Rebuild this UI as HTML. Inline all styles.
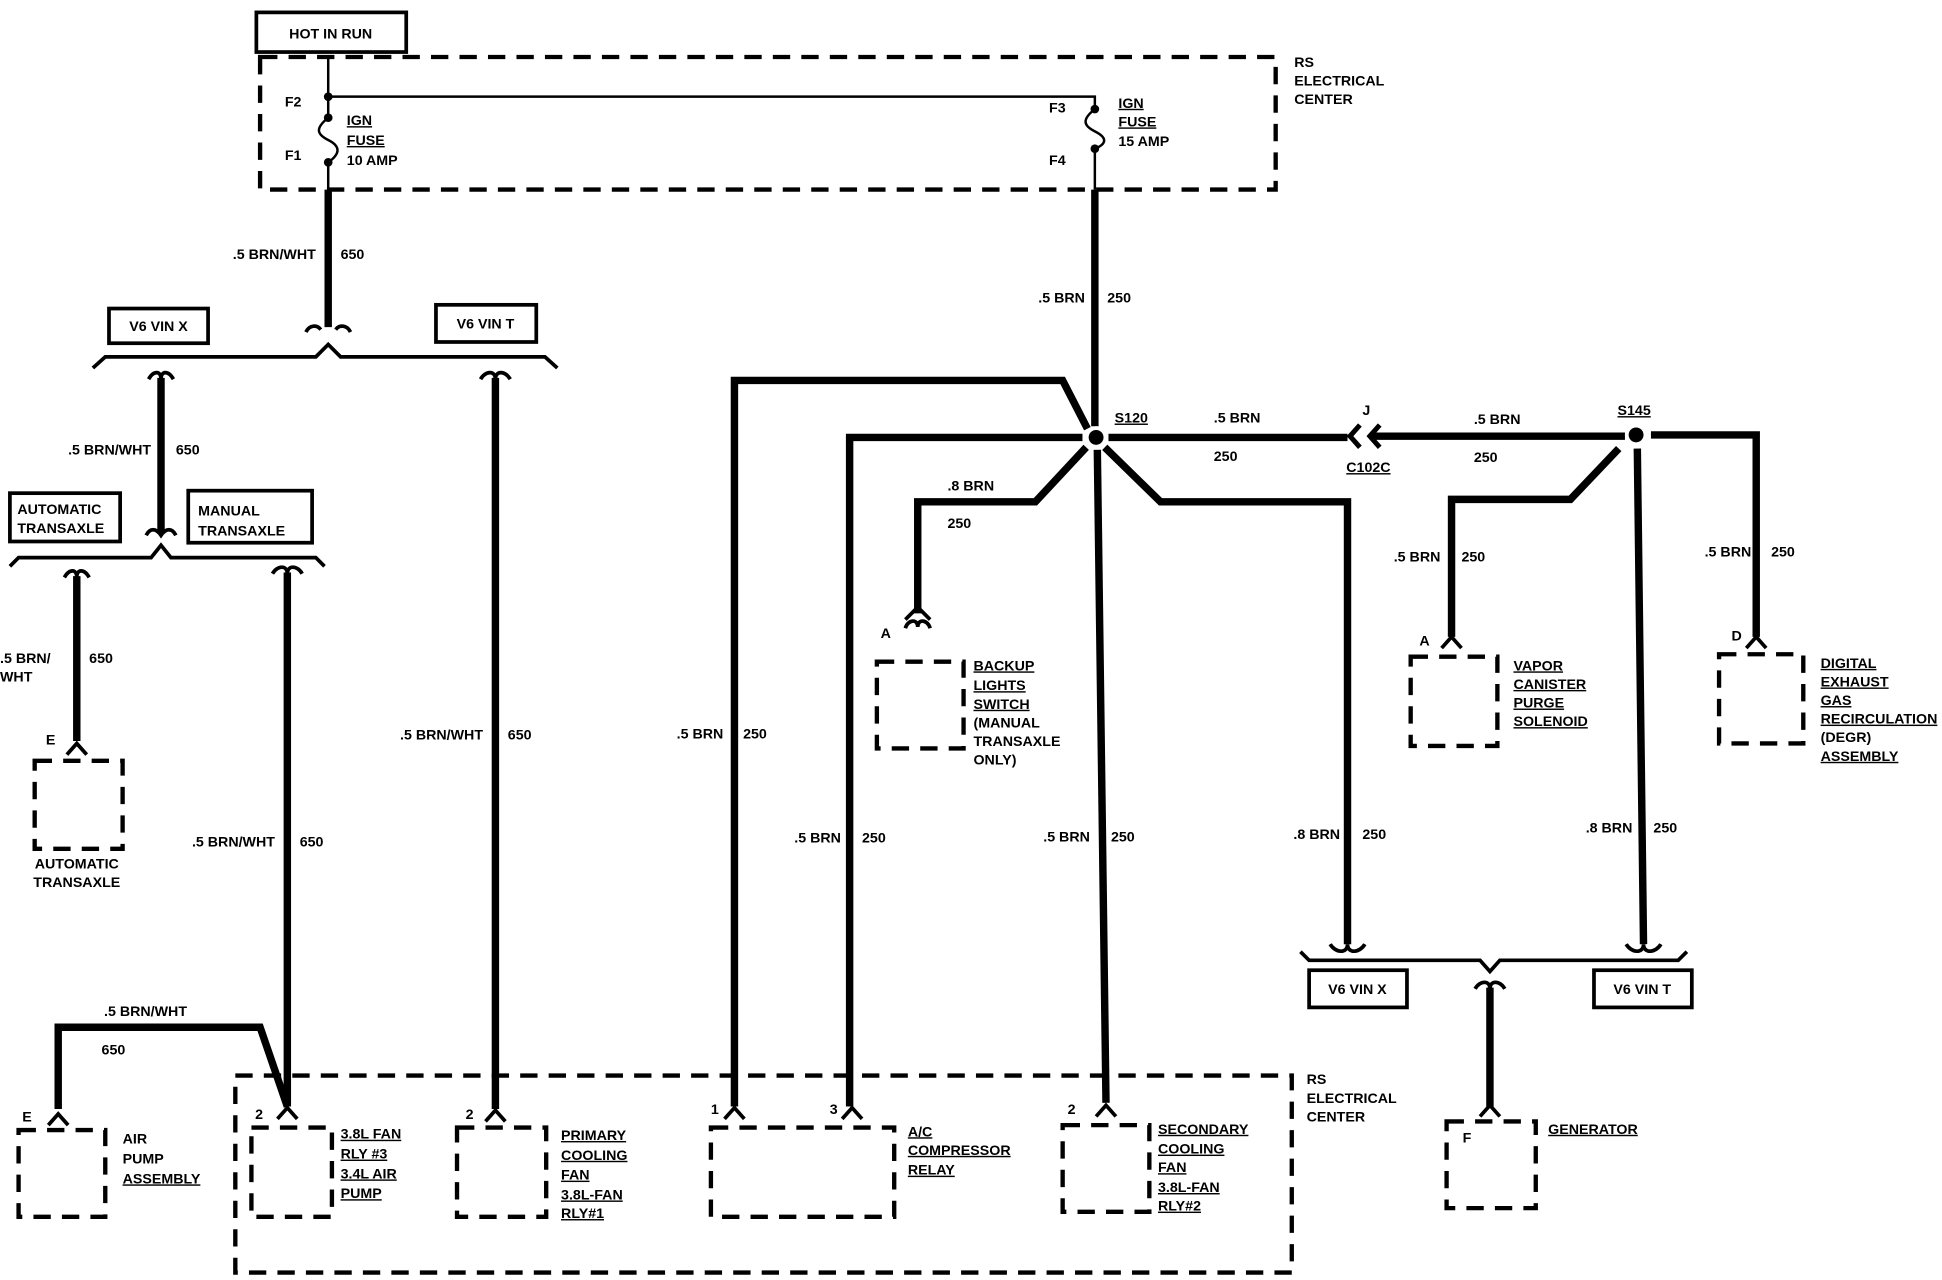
<!DOCTYPE html>
<html><head><meta charset="utf-8"><style>
html,body{margin:0;padding:0;background:#fff;}
svg{display:block;}
text{font-family:"Liberation Sans",sans-serif;font-weight:bold;font-size:11.5px;fill:#000;}
.w{stroke:#000;stroke-width:6;fill:none;stroke-linejoin:miter;}
.t{stroke:#000;stroke-width:2;fill:none;}
.m{stroke:#000;stroke-width:3;fill:none;}
.d{stroke:#000;stroke-width:3.5;fill:none;stroke-dasharray:14,9;}
.u{text-decoration:underline;}
</style></head><body>
<svg width="1942" height="1280" viewBox="0 0 1568 1033" preserveAspectRatio="none" xmlns="http://www.w3.org/2000/svg">
<!-- top -->
<rect x="207" y="10" width="121" height="32" class="m"/>
<text x="267" y="31" text-anchor="middle">HOT IN RUN</text>
<rect x="210" y="46" width="820" height="107" class="d"/>
<text x="1045" y="54">RS</text><text x="1045" y="69">ELECTRICAL</text><text x="1045" y="84">CENTER</text>
<!-- left fuse -->
<path d="M265 46 V78 H884 V88" class="t"/>
<path d="M265 78 V95 C255 103,255 108,265 113 C275 118,275 124,265 131 V153" class="t"/>
<circle cx="265" cy="78" r="3.5"/><circle cx="265" cy="95" r="3.5"/><circle cx="265" cy="131" r="3.5"/>
<text x="230" y="86">F2</text><text x="230" y="129">F1</text>
<text x="280" y="101" class="u">IGN</text><text x="280" y="117" class="u">FUSE</text><text x="280" y="133">10 AMP</text>
<!-- right fuse -->
<path d="M884 88 C874 96,874 101,884 106 C894 111,894 116,884 120 V153" class="t"/>
<circle cx="884" cy="88" r="3.5"/><circle cx="884" cy="120" r="3.5"/>
<text x="847" y="91">F3</text><text x="847" y="133">F4</text>
<text x="903" y="87" class="u">IGN</text><text x="903" y="102" class="u">FUSE</text><text x="903" y="118">15 AMP</text>
<!-- left tree -->
<path d="M265 153 V264" class="w"/>
<path d="M247 268 C250 262,256 262,259 266 M271 266 C274 262,280 262,283 268" class="m"/>
<text x="255" y="209" text-anchor="end">.5 BRN/WHT</text><text x="275" y="209">650</text>
<rect x="88" y="249" width="80" height="28" class="m"/><text x="128" y="267" text-anchor="middle">V6 VIN X</text>
<rect x="352" y="246" width="81" height="30" class="m"/><text x="392" y="265" text-anchor="middle">V6 VIN T</text>
<path d="M75 297 L85 288 H255 L265 278 L275 288 H440 L450 297" class="m"/>
<!-- drop 130 -->
<path d="M120 306 C124 299,130 299,130 306 C130 299,136 299,140 306" class="m"/>
<path d="M130 305 V430" class="w"/>
<text x="122" y="367" text-anchor="end">.5 BRN/WHT</text><text x="142" y="367">650</text>
<rect x="8" y="398" width="89" height="39" class="m"/><text x="14" y="415">AUTOMATIC</text><text x="14" y="430">TRANSAXLE</text>
<rect x="152" y="396" width="100" height="42" class="m"/><text x="160" y="416">MANUAL</text><text x="160" y="432">TRANSAXLE</text>
<path d="M118 432 C121 426,126 426,130 432 C134 426,139 426,142 432" class="m"/>
<path d="M8 457 L15 450 H122 L130 440 L138 450 H255 L262 457" class="m"/>
<!-- drop 62 -->
<path d="M52 466 C56 459,62 459,62 466 C62 459,68 459,72 466" class="m"/>
<path d="M62 465 V598" class="w"/>
<text x="0" y="535">.5 BRN/</text><text x="0" y="550">WHT</text><text x="72" y="535">650</text>
<text x="37" y="601">E</text>
<path d="M54 609 L62 600 L70 609" class="m"/>
<rect x="28" y="614" width="71" height="71" class="d"/>
<text x="62" y="701" text-anchor="middle">AUTOMATIC</text><text x="62" y="716" text-anchor="middle">TRANSAXLE</text>
<!-- drop 232 -->
<path d="M220 463 C224 456,232 456,232 463 C232 456,240 456,244 463" class="m"/>
<path d="M232 462 V893" class="w"/>
<text x="222" y="683" text-anchor="end">.5 BRN/WHT</text><text x="242" y="683">650</text>
<!-- drop 400 -->
<path d="M388 306 C392 299,400 299,400 306 C400 299,408 299,412 306" class="m"/>
<path d="M400 305 V895" class="w"/>
<text x="390" y="597" text-anchor="end">.5 BRN/WHT</text><text x="410" y="597">650</text>
<!-- air pump -->
<path d="M47 895 V829 H210 L232 893" class="w"/>
<text x="84" y="820">.5 BRN/WHT</text><text x="82" y="851">650</text>
<text x="18" y="905">E</text>
<path d="M39 908 L47 899 L55 908" class="m"/>
<rect x="15" y="912" width="70" height="70" class="d"/>
<text x="99" y="923">AIR</text><text x="99" y="939">PUMP</text><text x="99" y="955" class="u">ASSEMBLY</text>
<!-- lower RS box -->
<rect x="190" y="868" width="853" height="159" class="d"/>
<text x="1055" y="875">RS</text><text x="1055" y="890">ELECTRICAL</text><text x="1055" y="905">CENTER</text>
<text x="206" y="903">2</text>
<path d="M224 903 L232 894 L240 903" class="m"/>
<rect x="203" y="910" width="65" height="72" class="d"/>
<text x="275" y="919" class="u">3.8L FAN</text><text x="275" y="935" class="u">RLY #3</text><text x="275" y="951" class="u">3.4L AIR</text><text x="275" y="967" class="u">PUMP</text>
<text x="376" y="903">2</text>
<path d="M392 905 L400 896 L408 905" class="m"/>
<rect x="369" y="910" width="72" height="72" class="d"/>
<text x="453" y="920" class="u">PRIMARY</text><text x="453" y="936" class="u">COOLING</text><text x="453" y="952" class="u">FAN</text><text x="453" y="968" class="u">3.8L-FAN</text><text x="453" y="983" class="u">RLY#1</text>
<text x="574" y="899">1</text>
<path d="M585 903 L593 894 L601 903" class="m"/>
<text x="670" y="899">3</text>
<path d="M680 903 L688 894 L696 903" class="m"/>
<rect x="574" y="910" width="148" height="72" class="d"/>
<text x="733" y="917" class="u">A/C</text><text x="733" y="932" class="u">COMPRESSOR</text><text x="733" y="948" class="u">RELAY</text>
<text x="862" y="899">2</text>
<path d="M885 901 L893 892 L901 901" class="m"/>
<rect x="858" y="908" width="70" height="70" class="d"/>
<text x="935" y="915" class="u">SECONDARY</text><text x="935" y="931" class="u">COOLING</text><text x="935" y="946" class="u">FAN</text><text x="935" y="962" class="u">3.8L-FAN</text><text x="935" y="977" class="u">RLY#2</text>
<!-- S120 -->
<path d="M884 153 V344" class="w"/>
<text x="876" y="244" text-anchor="end">.5 BRN</text><text x="894" y="244">250</text>
<path d="M878 346 L858 307 H593 V893" class="w"/>
<text x="584" y="596" text-anchor="end">.5 BRN</text><text x="600" y="596">250</text>
<path d="M874 353 H686 V893" class="w"/>
<text x="679" y="680" text-anchor="end">.5 BRN</text><text x="696" y="680">250</text>
<path d="M877 361 L836 405 H741 V495" class="w"/>
<text x="765" y="396">.8 BRN</text><text x="765" y="426">250</text>
<path d="M731 507 C733 500,741 499,741 506 C741 499,749 500,751 507" class="m"/>
<path d="M731 500 L741 490 L751 500" class="m"/>
<text x="711" y="515">A</text>
<rect x="708" y="534" width="70" height="70" class="d"/>
<text x="786" y="541" class="u">BACKUP</text><text x="786" y="557" class="u">LIGHTS</text><text x="786" y="572" class="u">SWITCH</text><text x="786" y="587">(MANUAL</text><text x="786" y="602">TRANSAXLE</text><text x="786" y="617">ONLY)</text>
<path d="M886 363 L893 890" class="w"/>
<text x="880" y="679" text-anchor="end">.5 BRN</text><text x="897" y="679">250</text>
<path d="M892 361 L937 405 H1088 V762" class="w"/>
<text x="1082" y="677" text-anchor="end">.8 BRN</text><text x="1100" y="677">250</text>
<path d="M1074 762 C1078 769,1088 770,1088 762 C1088 770,1098 769,1102 762" class="m"/>
<path d="M895 353 H1088" class="w"/>
<circle cx="885" cy="353" r="9" fill="#fff"/><circle cx="885" cy="353" r="6"/>
<text x="900" y="341" class="u">S120</text>
<text x="980" y="341">.5 BRN</text><text x="980" y="372">250</text>
<path d="M1098 343 L1090 352 L1098 361 M1114 343 L1106 352 L1114 361" class="m" style="stroke-width:4"/>
<path d="M1108 352 H1312" class="w"/>
<text x="1100" y="335">J</text><text x="1087" y="381" class="u">C102C</text>
<text x="1190" y="342">.5 BRN</text><text x="1190" y="373">250</text>
<!-- S145 -->
<circle cx="1321" cy="351" r="9" fill="#fff"/><circle cx="1321" cy="351" r="6"/>
<text x="1306" y="335" class="u">S145</text>
<path d="M1333 351 H1418 V514" class="w"/>
<text x="1414" y="449" text-anchor="end">.5 BRN</text><text x="1430" y="449">250</text>
<text x="1398" y="517">D</text>
<path d="M1410 523 L1418 514 L1426 523" class="m"/>
<rect x="1388" y="528" width="68" height="72" class="d"/>
<text x="1470" y="539" class="u">DIGITAL</text><text x="1470" y="554" class="u">EXHAUST</text><text x="1470" y="569" class="u">GAS</text><text x="1470" y="584" class="u">RECIRCULATION</text><text x="1470" y="599">(DEGR)</text><text x="1470" y="614" class="u">ASSEMBLY</text>
<path d="M1307 362 L1268 403 H1172 V514" class="w"/>
<text x="1163" y="453" text-anchor="end">.5 BRN</text><text x="1180" y="453">250</text>
<text x="1146" y="521">A</text>
<path d="M1164 523 L1172 514 L1180 523" class="m"/>
<rect x="1139" y="530" width="70" height="72" class="d"/>
<text x="1222" y="541" class="u">VAPOR</text><text x="1222" y="556" class="u">CANISTER</text><text x="1222" y="571" class="u">PURGE</text><text x="1222" y="586" class="u">SOLENOID</text>
<path d="M1322 362 L1327 762" class="w"/>
<text x="1318" y="672" text-anchor="end">.8 BRN</text><text x="1335" y="672">250</text>
<path d="M1313 762 C1317 769,1327 770,1327 762 C1327 770,1337 769,1341 762" class="m"/>
<path d="M1050 768 L1057 775 H1195 L1203 784 L1211 775 H1355 L1362 768" class="m"/>
<rect x="1057" y="783" width="79" height="30" class="m"/><text x="1096" y="802" text-anchor="middle">V6 VIN X</text>
<rect x="1287" y="783" width="79" height="30" class="m"/><text x="1326" y="802" text-anchor="middle">V6 VIN T</text>
<path d="M1191 798 C1195 791,1203 791,1203 798 C1203 791,1211 791,1215 798" class="m"/>
<path d="M1203 797 V893" class="w"/>
<text x="1181" y="922">F</text>
<path d="M1195 901 L1203 892 L1211 901" class="m"/>
<rect x="1168" y="905" width="72" height="70" class="d"/>
<text x="1250" y="915" class="u">GENERATOR</text>
</svg>
</body></html>
